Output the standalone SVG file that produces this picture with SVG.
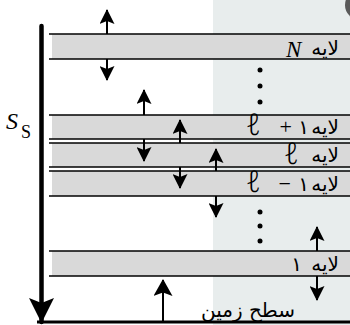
<svg xmlns="http://www.w3.org/2000/svg" width="350" height="325" viewBox="0 0 350 325">
<style>
.band{fill:#d9d9d9;}
.ln{stroke:#000;stroke-width:1.6;fill:none;}
.ar{stroke:#000;stroke-width:2;fill:none;marker-end:url(#ah);}
.fa{font-family:"DejaVu Sans",sans-serif;font-size:20px;fill:#000;}
.ma{font-family:"Liberation Serif","DejaVu Serif",serif;fill:#000;}
.ell{font-family:"Noto Sans","DejaVu Sans",sans-serif;font-style:italic;font-weight:300;font-size:30px;fill:#000;}
.dot{fill:#000;}
</style>
<defs>
<marker id="ah" markerUnits="userSpaceOnUse" markerWidth="15" markerHeight="15" viewBox="0 0 15 15" refX="14" refY="7.5" orient="auto">
<path d="M0,0 L15,7.5 L0,15 L3,7.5 z" fill="#000"/>
</marker>
<marker id="ahg" markerUnits="userSpaceOnUse" markerWidth="17" markerHeight="19" viewBox="0 0 17 19" refX="16" refY="9.5" orient="auto">
<path d="M0,0 L17,9.5 L0,19 L3.5,9.5 z" fill="#000"/>
</marker>
<marker id="ahb" markerUnits="userSpaceOnUse" markerWidth="25" markerHeight="25" viewBox="0 0 25 25" refX="24" refY="12.5" orient="auto">
<path d="M0,0 L25,12.5 L0,25 L5,12.5 z" fill="#000"/>
</marker>
</defs>
<rect x="0" y="0" width="350" height="325" fill="#fff"/>
<rect id="panel" x="213" y="0" width="137" height="325" fill="#e8eded"/>
<circle cx="360" cy="5" r="15" fill="#5a5a5a"/>

<g id="layerN">
<rect class="band" x="52" y="34" width="298" height="25"/>
<line class="ln" x1="49" y1="34" x2="350" y2="34"/>
<line class="ln" x1="49" y1="59" x2="350" y2="59"/>
<text class="fa" x="339" y="55" text-anchor="end">لایه</text>
<text class="ma" x="286" y="57" font-size="23" font-style="italic">N</text>
</g>

<g id="layerL1">
<rect class="band" x="52" y="115" width="298" height="24"/>
<line class="ln" x1="49" y1="115" x2="350" y2="115"/>
<line class="ln" x1="49" y1="139" x2="350" y2="139"/>
<text class="fa" x="339" y="134" text-anchor="end">لایه</text>
<text class="fa" x="309" y="134" text-anchor="end">۱</text>
<text class="ma" x="292" y="134" font-size="22" text-anchor="end">+</text>
<text class="ell" x="246" y="135">ℓ</text>
</g>

<g id="layerL">
<rect class="band" x="52" y="143" width="298" height="24"/>
<line class="ln" x1="49" y1="143" x2="350" y2="143"/>
<line class="ln" x1="49" y1="167" x2="350" y2="167"/>
<text class="fa" x="339" y="162" text-anchor="end">لایه</text>
<text class="ell" x="284" y="164">ℓ</text>
</g>

<g id="layerLm1">
<rect class="band" x="52" y="171" width="298" height="25"/>
<line class="ln" x1="49" y1="171" x2="350" y2="171"/>
<line class="ln" x1="49" y1="196" x2="350" y2="196"/>
<text class="fa" x="339" y="191" text-anchor="end">لایه</text>
<text class="fa" x="309" y="191" text-anchor="end">۱</text>
<text class="ma" x="291" y="191" font-size="22" text-anchor="end">−</text>
<text class="ell" x="246" y="192">ℓ</text>
</g>

<g id="layer1">
<rect class="band" x="52" y="251" width="298" height="25"/>
<line class="ln" x1="49" y1="251" x2="350" y2="251"/>
<line class="ln" x1="49" y1="276" x2="350" y2="276"/>
<text class="fa" x="339" y="271" text-anchor="end">لایه</text>
<text class="fa" x="302" y="271" text-anchor="end">۱</text>
</g>

<g id="dots">
<circle class="dot" cx="260" cy="70" r="2.5"/>
<circle class="dot" cx="260" cy="86" r="2.5"/>
<circle class="dot" cx="260" cy="102" r="2.5"/>
<circle class="dot" cx="260" cy="212" r="2.5"/>
<circle class="dot" cx="260" cy="226" r="2.5"/>
<circle class="dot" cx="260" cy="241" r="2.5"/>
</g>

<g id="ground">
<line x1="37" y1="322" x2="350" y2="322" stroke="#000" stroke-width="3"/>
<text class="fa" x="248" y="317" text-anchor="middle" font-size="21">سطح زمین</text>
</g>

<g id="ss">
<line x1="41.5" y1="26" x2="41.5" y2="322" stroke="#000" stroke-width="4.5" stroke-linecap="round" marker-end="url(#ahb)"/>
<text class="ma" x="6" y="129" font-size="24" font-style="italic">S</text>
<text class="ma" x="21" y="138" font-size="18">S</text>
</g>

<g id="connectors">
<line class="ar" x1="107" y1="34" x2="107" y2="10"/>
<line class="ar" x1="107" y1="59" x2="107" y2="80"/>
<line class="ar" x1="144" y1="115" x2="144" y2="90"/>
<line class="ar" x1="144" y1="139" x2="144" y2="161"/>
<line class="ar" x1="180" y1="143" x2="180" y2="120"/>
<line class="ar" x1="180" y1="167" x2="180" y2="188"/>
<line class="ar" x1="216" y1="171" x2="216" y2="149"/>
<line class="ar" x1="216" y1="196" x2="216" y2="217"/>
<line class="ar" x1="317" y1="251" x2="317" y2="227"/>
<line class="ar" x1="317" y1="276" x2="317" y2="300"/>
<line x1="163" y1="322" x2="163" y2="280" stroke="#000" stroke-width="2" marker-end="url(#ahg)"/>
</g>
</svg>
